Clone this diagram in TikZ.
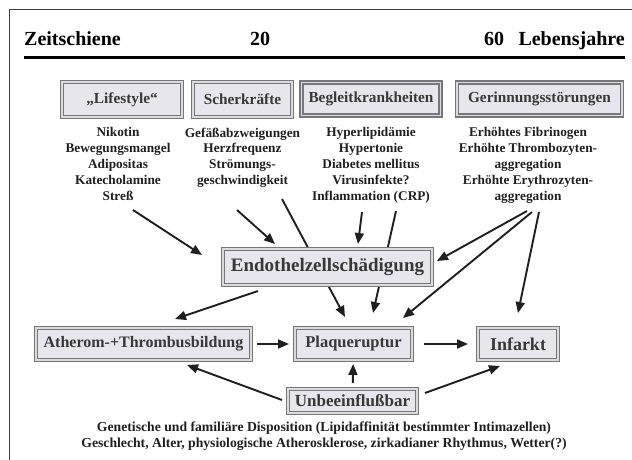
\documentclass[tikz,border=0pt]{standalone}
\usepackage{fontspec}
\setmainfont{Liberation Serif}
\usetikzlibrary{arrows.meta,backgrounds}
\definecolor{boxfill}{HTML}{E6E6EC}
\definecolor{boxline}{HTML}{76767C}

\begin{document}
\begin{tikzpicture}[x=1pt,y=-1pt,
    box/.style={draw=boxline,double=black!14,double distance=1.8pt,line width=1.2pt,
                fill=boxfill,text=black!78,inner sep=2pt,outer sep=0pt,
                minimum height=33,font=\fontsize{16}{18}\selectfont\bfseries},
    topbox/.style={box,font=\fontsize{15.3}{18}\selectfont\bfseries},
    list/.style={align=center,anchor=north,inner sep=0pt,text=black!88,
                 font=\fontsize{13.3}{15.8}\selectfont\bfseries},
    head/.style={inner sep=0pt,font=\fontsize{20}{22}\selectfont\bfseries},
    arr/.style={-{Triangle[length=11pt,width=9pt]},line width=1.9pt,black!88}
  ]
  \useasboundingbox (0,0) rectangle (632,460);
  % Rahmen und Zeitschiene
  \draw[line width=1.5pt,black!75] (632,9.5) -- (9.5,9.5) -- (9.5,460);
  \node[head,anchor=base west] (zeit) at (24,46) {Zeitschiene};
  \node[head,anchor=base] (j20) at (260,46) {20};
  \node[head,anchor=base west] (j60) at (484,46) {60};
  \node[head,anchor=base east] (leben) at (625,46) {Lebensjahre};
  \draw[line width=3pt] (24,58) -- (625,58);

  % Risikofaktoren
  \node[topbox,minimum width=120,minimum height=35] (life) at (122,99.5) {„Lifestyle“};
  \node[topbox,minimum width=99,minimum height=35] (scher) at (242.5,99.5) {Scherkräfte};
  \node[topbox,minimum width=139,minimum height=33] (begl) at (371,99) {Begleitkrankheiten};
  \node[topbox,minimum width=165,minimum height=33] (gerin) at (539.5,99) {Gerinnungsstörungen};

  \node[list] (lifelist) at (118,127.5) {Nikotin\\Bewegungsmangel\\Adipositas\\Katecholamine\\Streß};
  \node[list] (scherlist) at (242.5,127.5) {Gefäßabzweigungen\\Herzfrequenz\\Strömungs-\\geschwindigkeit};
  \node[list] (begllist) at (371,127.5) {Hyperlipidämie\\Hypertonie\\Diabetes mellitus\\Virusinfekte?\\Inflammation (CRP)};
  \node[list] (gerinlist) at (528,127.5) {Erhöhtes Fibrinogen\\Erhöhte Thrombozyten-\\aggregation\\Erhöhte Erythrozyten-\\aggregation};

  % Folgen
  \node[box,minimum width=209,minimum height=36,font=\fontsize{19}{21}\selectfont\bfseries] (endo) at (327.5,267) {Endothelzellschädigung};
  \node[box,minimum width=215,minimum height=32] (ather) at (143.5,344) {Atherom-+Thrombusbildung};
  \node[box,minimum width=117,minimum height=32,font=\fontsize{16.5}{18}\selectfont\bfseries] (plaque) at (353.5,344) {Plaqueruptur};
  \node[box,minimum width=80,minimum height=32,font=\fontsize{18}{20}\selectfont\bfseries] (infarkt) at (518,344) {Infarkt};
  \node[box,minimum width=129,minimum height=24,font=\fontsize{17}{19}\selectfont\bfseries] (unbe) at (352.5,401) {Unbeeinflußbar};
  \node[list,font=\fontsize{13.7}{16}\selectfont\bfseries] (unbelist) at (324,421.5)
    {Genetische und familiäre Disposition (Lipidaffinität bestimmter Intimazellen)\\
     Geschlecht, Alter, physiologische  Atherosklerose, zirkadianer Rhythmus, Wetter(?)};

  % Pfeilenden
  \coordinate (s1) at (133,210);   \coordinate (t1) at (202,255);
  \coordinate (s2) at (237,210);   \coordinate (t2) at (275,244);
  \coordinate (s3) at (282,199);   \coordinate (t3) at (345,317);
  \coordinate (s4) at (362,212);   \coordinate (t4) at (358,244);
  \coordinate (s5) at (396,211);   \coordinate (t5) at (373,313);
  \coordinate (s6) at (527,211);   \coordinate (t6) at (437,261);
  \coordinate (s7) at (532,212);   \coordinate (t7) at (403,318);
  \coordinate (s8) at (539,212);   \coordinate (t8) at (518,313);
  \coordinate (s9) at (258,291);   \coordinate (t9) at (175,319);
  \coordinate (s12) at (282,400);  \coordinate (t12) at (187,365);
  \coordinate (s14) at (425,393);  \coordinate (t14) at (500,366);

  \begin{scope}[on background layer]
    \path (s3) edge[arr] (t3)
          (s5) edge[arr] (t5);
  \end{scope}
  \path (s1) edge[arr] (t1)
        (s2) edge[arr] (t2)
        (s4) edge[arr] (t4)
        (s6) edge[arr] (t6)
        (s7) edge[arr] (t7)
        (s8) edge[arr] (t8)
        (s9) edge[arr] (t9)
        (ather) edge[arr,shorten <=6pt,shorten >=6pt] (plaque)
        (plaque) edge[arr,shorten <=12pt,shorten >=10pt] (infarkt)
        (s12) edge[arr] (t12)
        (unbe) edge[arr,shorten <=6pt,shorten >=4pt] (plaque)
        (s14) edge[arr] (t14);
\end{tikzpicture}
\end{document}
